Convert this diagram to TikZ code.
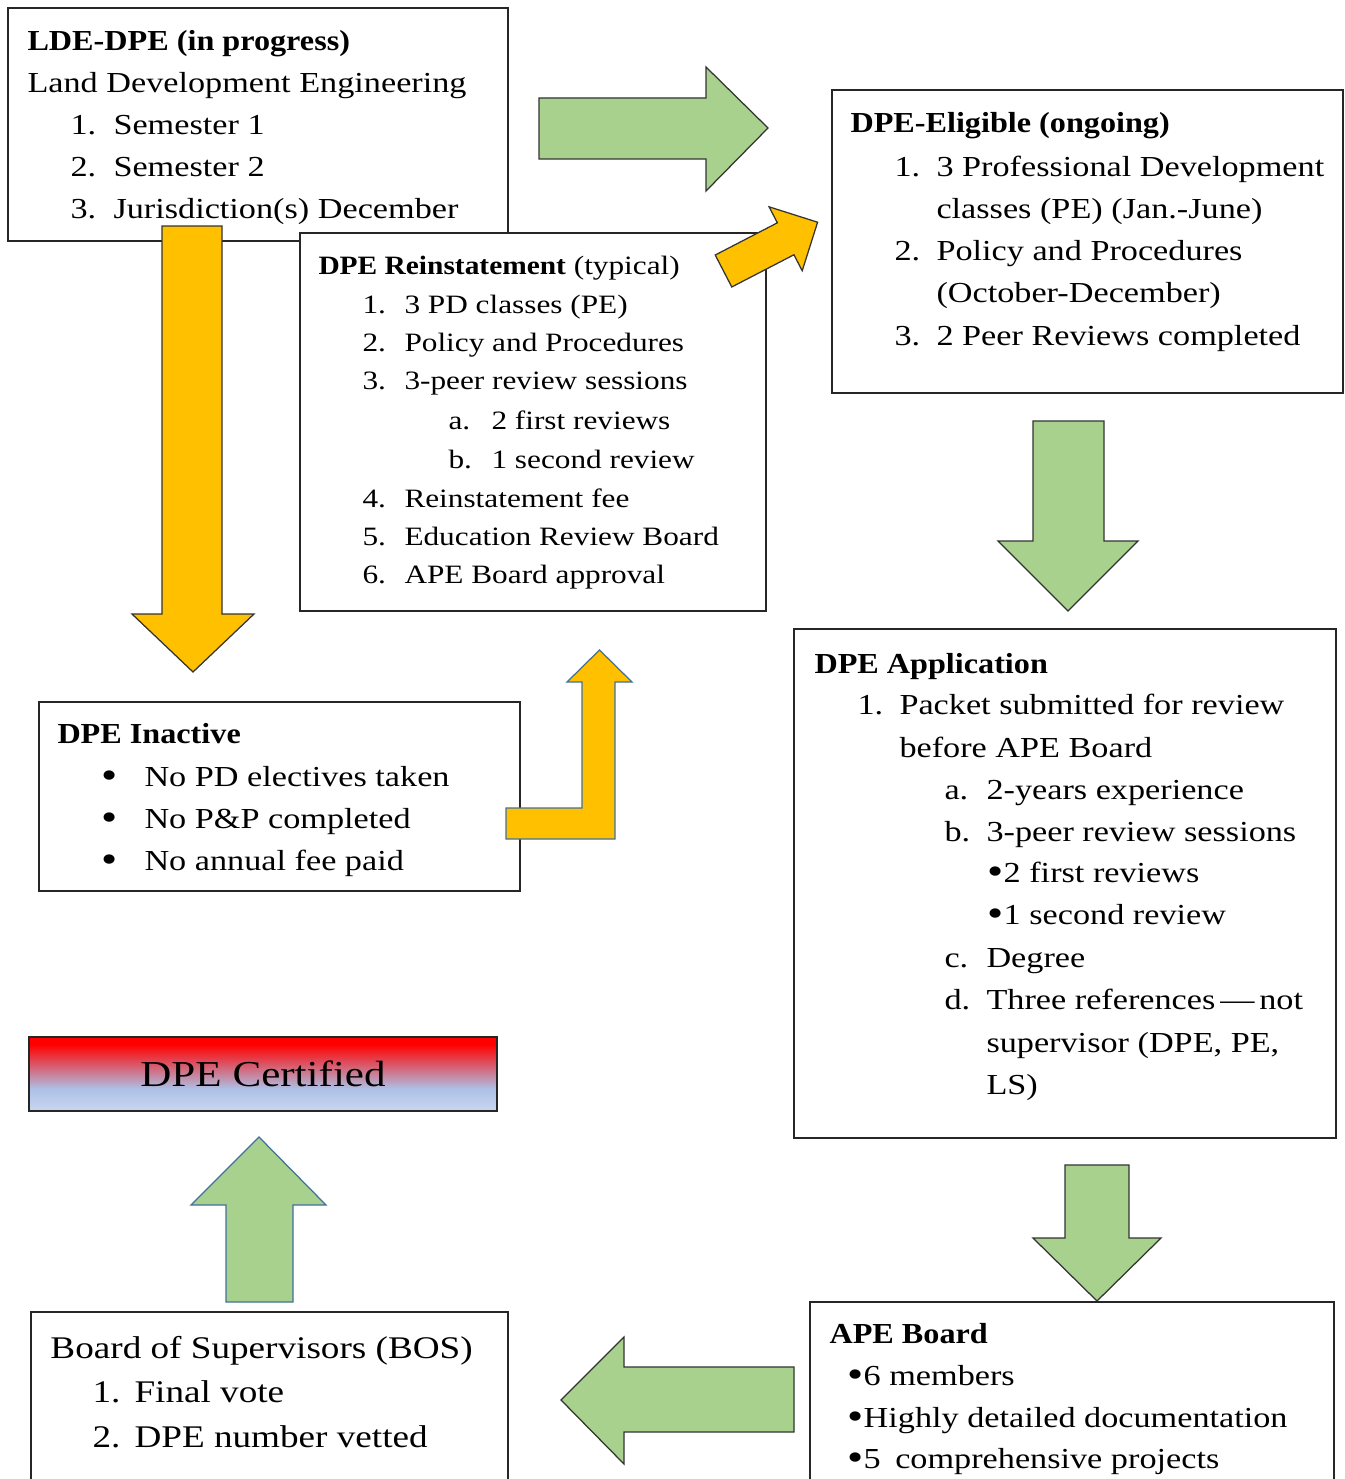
\documentclass[tikz,border=0pt]{standalone}
\usepackage{fontspec}
\setmainfont{Liberation Serif}[UprightFeatures={FakeStretch=1.18}, BoldFeatures={FakeStretch=1.11}]
\usetikzlibrary{fit}

\definecolor{boxgreen}{HTML}{A9D18E}
\definecolor{boxorange}{HTML}{FFC000}
\definecolor{officeblue}{HTML}{41719C}
\definecolor{certlow}{HTML}{C9D6EF}
\definecolor{certblue}{HTML}{ADC1E6}
\pgfdeclareverticalshading{certshading}{100bp}{color(0bp)=(certlow); color(25bp)=(certlow); color(40bp)=(certblue); color(70bp)=(red); color(100bp)=(red)}
\newcommand{\bul}{\raisebox{-0.15ex}{\scalebox{1.35}{•}}}

\begin{document}
\begin{tikzpicture}[x=0.4pt, y=-0.4pt,
    box/.style={draw=black!85, line width=0.6pt, fill=white, inner sep=0pt},
    txt/.style={anchor=base west, inner sep=0pt, font=\fontsize{11.6}{14}\selectfont},
    head/.style={txt, font=\fontsize{11.6}{14}\selectfont\bfseries},
    small/.style={txt, font=\fontsize{10.6}{13}\selectfont},
    bos/.style={txt, font=\fontsize{12.6}{15}\selectfont},
    greenarrow/.style={fill=boxgreen, draw=black!80, line width=0.5pt},
    orangearrow/.style={fill=boxorange, draw=black!80, line width=0.5pt}]
  \useasboundingbox (0,0) rectangle (1345,1479);
  \fill[white] (0,0) rectangle (1345,1479);
  \clip (0,0) rectangle (1345,1479);

  % LDE-DPE
  \node[box, fit={(8,8) (508,241)}] (lde) {};
  \node[head] (ldehead) at (27,51) {LDE-DPE (in progress)};
  \foreach \x/\y/\t [count=\i] in {27/93/Land Development Engineering,
      70/135/1., 113/135/Semester 1, 70/176/2., 113/176/Semester 2,
      70/218/3., 113/218/Jurisdiction(s) December}
    \node[txt] (lde\i) at (\x,\y) {\t};

  % reinstatement
  \node[box, fit={(300,233) (766,611)}] (reinst) {};
  \node[small] (reinsthead) at (318,274) {\textbf{DPE Reinstatement} (typical)};
  \foreach \x/\y/\t [count=\i] in {362/313/1., 404/313/3 PD classes (PE),
      362/351/2., 404/351/Policy and Procedures, 362/389/3., 404/389/3-peer review sessions,
      448/429/a., 491/429/2 first reviews, 448/468/b., 491/468/1 second review,
      362/507/4., 404/507/Reinstatement fee, 362/545/5., 404/545/Education Review Board,
      362/583/6., 404/583/APE Board approval}
    \node[small] (reinst\i) at (\x,\y) {\t};

  \draw[orangearrow] (162,226) -- (222,226) -- (222,614) -- (254,614) -- (193,672)
    -- (132,614) -- (162,614) -- cycle;
  \begin{scope}[shift={(723.5,271)}, rotate=27.4]
    \draw[orangearrow] (0,-18) -- (70,-18) -- (70,-36) -- (106,0) -- (70,36)
      -- (70,18) -- (0,18) -- cycle;
  \end{scope}

  % eligible
  \draw[greenarrow] (539,98) -- (706,98) -- (706,67) -- (768,128) -- (706,191)
    -- (706,159) -- (539,159) -- cycle;
  \node[box, fit={(832,90) (1343,393)}] (elig) {};
  \node[head] (elighead) at (850,133) {DPE-Eligible (ongoing)};
  \foreach \x/\y/\t [count=\i] in {894/176/1., 936/176/3 Professional Development,
      936/218/classes (PE) (Jan.-June), 894/260/2., 936/260/Policy and Procedures,
      936/302/(October-December), 894/345/3., 936/345/2 Peer Reviews completed}
    \node[txt] (elig\i) at (\x,\y) {\t};

  % application
  \draw[greenarrow] (1033,421) -- (1104,421) -- (1104,541) -- (1138,541) -- (1068,611)
    -- (998,541) -- (1033,541) -- cycle;
  \node[box, fit={(794,629) (1336,1138)}] (appl) {};
  \node[head] (applhead) at (814,673) {DPE Application};
  \foreach \x/\y/\t [count=\i] in {857/714/1., 899/714/Packet submitted for review,
      899/757/before APE Board, 944/799/a., 986/799/2-years experience,
      944/841/b., 986/841/3-peer review sessions, 987/882/\bul2 first reviews,
      987/924/\bul1 second review, 944/967/c., 986/967/Degree,
      944/1009/d., 986/1009/Three references\,—\,not, {986/1052/supervisor (DPE, PE,},
      986/1094/LS)}
    \node[txt] (appl\i) at (\x,\y) {\t};

  % inactive
  \node[box, fit={(39,702) (520,891)}] (inact) {};
  \node[head] (inacthead) at (57,743) {DPE Inactive};
  \foreach \x/\y/\t [count=\i] in {101/786/\bul, 144/786/No PD electives taken,
      101/828/\bul, 144/828/No P\&P completed, 101/870/\bul, 144/870/No annual fee paid}
    \node[txt] (inact\i) at (\x,\y) {\t};
  \draw[orangearrow, draw=officeblue] (506,808) -- (582,808) -- (582,682) -- (567,682)
    -- (599.5,650) -- (632,682) -- (615,682) -- (615,839) -- (506,839) -- cycle;

  % certified
  \node[draw=black!85, line width=0.6pt, inner sep=0pt, shading=certshading,
    fit={(29,1037) (497,1111)}] (cert) {};
  \node[font=\fontsize{14.6}{17}\selectfont, inner sep=0pt] (certtext) at (cert.center) {DPE Certified};

  % APE board
  \draw[greenarrow] (1065,1165) -- (1129,1165) -- (1129,1238) -- (1161,1238) -- (1097,1301)
    -- (1033,1238) -- (1065,1238) -- cycle;
  \node[box, fit={(810,1302) (1334,1500)}] (ape) {};
  \node[head] (apehead) at (829,1343) {APE Board};
  \foreach \y/\t [count=\i] in {1385/\bul6 members, 1427/\bul Highly detailed documentation,
      1468/\bul5\enspace comprehensive projects}
    \node[txt] (ape\i) at (847,\y) {\t};

  % BOS
  \draw[greenarrow] (794,1367) -- (624,1367) -- (624,1337) -- (561,1400) -- (624,1464)
    -- (624,1432) -- (794,1432) -- cycle;
  \node[box, fit={(31,1312) (508,1500)}] (bos) {};
  \foreach \x/\y/\t [count=\i] in {50/1358/Board of Supervisors (BOS),
      92/1402/1., 134/1402/Final vote, 92/1447/2., 134/1447/DPE number vetted}
    \node[bos] (bos\i) at (\x,\y) {\t};
  \draw[greenarrow, draw=officeblue] (226,1302) -- (226,1205) -- (191,1205) -- (259,1137)
    -- (326,1205) -- (293,1205) -- (293,1302) -- cycle;
\end{tikzpicture}
\end{document}
